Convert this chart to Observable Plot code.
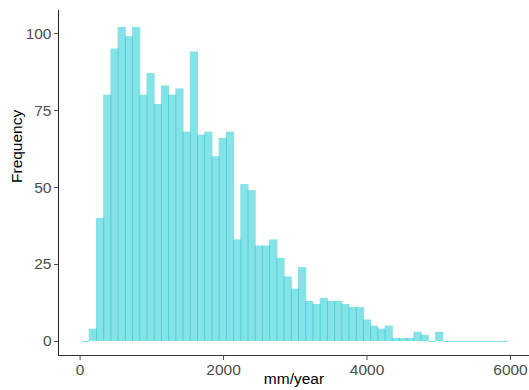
<!DOCTYPE html>
<html><head><meta charset="utf-8">
<script src="https://cdn.jsdelivr.net/npm/d3@7"></script>
<script src="https://cdn.jsdelivr.net/npm/@observablehq/plot@0.6"></script>
<style>body{margin:0;background:#fff}</style>
</head><body><div id="chart"></div>
<script>
// Histogram counts per bin (mm/year)
const counts = [0, 4, 40, 80, 95, 102, 99, 102, 80, 87, 77, 83, 80, 82, 68, 94, 67, 68, 60, 66,
  68, 33, 51, 49, 31, 31, 33, 27, 21, 17, 24, 13, 12, 14, 13, 13, 12, 11, 11, 7,
  5, 4, 5, 1, 1, 1, 3, 2, 0, 3, 0, 0, 0, 0, 0, 0, 0, 0, 0];
const binStart = 34;
const binWidth = 100.6;
const xTicks = [0, 2000, 4000, 6000];
const yTicks = [0, 25, 50, 75, 100];
const xDomain = [-301, 6265];
const yDomain = [-4.55, 107.5];
const xLabel = "mm/year";
const yLabel = "Frequency";

const bins = counts.map((c, i) => ({x1: binStart + i * binWidth, x2: binStart + (i + 1) * binWidth, count: c}));
const barColor = "#00c2cc";
const fs = 15.5;

const chart = Plot.plot({
  width: 529, height: 390,
  marginLeft: 58, marginRight: 0, marginTop: 10, marginBottom: 35,
  style: {fontFamily: "'Liberation Sans', Arial, sans-serif", fontSize: fs + "px", background: "#fff", overflow: "visible"},
  x: {domain: xDomain},
  y: {domain: yDomain},
  marks: [
    Plot.ruleY(bins.filter(d => d.count === 0), {x1: "x1", x2: "x2", y: 0, stroke: barColor, strokeOpacity: 0.5}),
    Plot.rect(bins, {x1: "x1", x2: "x2", y1: 0, y2: "count", fill: barColor, fillOpacity: 0.48, insetLeft: -0.5, insetRight: -0.5}),
    Plot.ruleX([xDomain[0]], {stroke: "#222"}),
    Plot.ruleY([yDomain[0]], {stroke: "#333"}),
    Plot.axisX(xTicks, {tickSize: 5, tickPadding: 3, color: "#4d4d4d", label: null, fontSize: fs, tickFormat: d3.format("d")}),
    Plot.axisY(yTicks, {tickSize: 4, tickPadding: 3, color: "#4d4d4d", label: null, fontSize: fs, tickFormat: d3.format("d")}),
    Plot.text([yLabel], {frameAnchor: "left", rotate: -90, dx: -41, fill: "#000", fontSize: fs}),
    Plot.text([xLabel], {frameAnchor: "bottom", dy: 28, fill: "#000", fontSize: fs})
  ]
});
document.getElementById("chart").appendChild(chart);
</script>
</body></html>
